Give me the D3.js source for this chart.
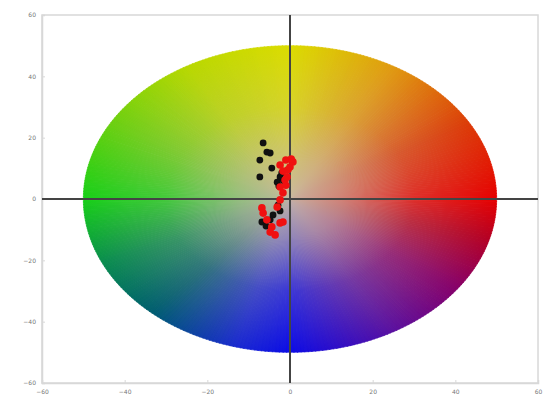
<!DOCTYPE html>
<html>
<head>
<meta charset="utf-8">
<script src="https://cdn.jsdelivr.net/npm/d3@7"></script>
<style>
  body { margin: 0; background: #fff; }
  .tick text { font-family: "DejaVu Sans", sans-serif; font-size: 6px; fill: #777; }
</style>
</head>
<body>
<div id="chart"></div>
<script>
// Tick values for both axes
var tickValues = [-60, -40, -20, 0, 20, 40, 60];

// Colour wheel: hue stops by angle (degrees, counter-clockwise from +a)
var hueAngles = [0, 30, 60, 90, 120, 150, 180, 205, 228, 255, 270, 300, 325, 345, 360];
var hueColors = ["#e60000", "#dc3c08", "#e09a10", "#dcdc00", "#b8d800", "#6cd010", "#18d018",
                 "#0a8c50", "#005e70", "#1a2ad0", "#0c0ce6", "#5a10a0", "#880068", "#b40024", "#e60000"];
var wheelRadius = 50;

// Sample group 1 (black)
var blackA = [-6.5, -5.6, -4.8, -7.3, -4.4, -7.3, -2.4, -3.1, -2.7, -2.9, -2.4, -4.1, -4.8, -6.8, -5.8, -2.0, -1.6];
var blackB = [18.3, 15.3, 15.0, 12.7, 10.1, 7.2, 7.2, 5.5, 4.2, -2.0, -3.9, -5.2, -6.8, -7.5, -8.8, 8.5, 6.0];

// Sample group 2 (red)
var redA = [-2.4, -1.0, 0.7, -1.7, -0.5, -1.2, -2.4, -1.7, -2.4, -3.1, -6.8, -6.5, -5.6, -4.4, -3.6, -2.4, -1.7, -4.8, 0.0, -0.7, 0.3, -1.0];
var redB = [11.1, 12.7, 12.1, 9.1, 9.5, 6.2, 3.9, 2.0, -0.3, -2.6, -2.9, -4.6, -6.8, -9.1, -11.7, -7.8, -7.5, -10.8, 10.4, 7.2, 13.0, 4.5];

var svgWidth = 557;
var svgHeight = 398;
var Margin = { top: 15, right: 19, bottom: 15, left: 42 };
var width = svgWidth - Margin.left - Margin.right;
var height = svgHeight - Margin.top - Margin.bottom;

var svg = d3.select("#chart").append("svg")
  .attr("width", svgWidth)
  .attr("height", svgHeight);

var chartGroup = svg.append("g")
  .attr("transform", `translate(${Margin.left}, ${Margin.top})`);

var xScale = d3.scaleLinear().domain([-60, 60]).range([0, width]);
var yScale = d3.scaleLinear().domain([-60, 60]).range([height, 0]);
var hueScale = d3.scaleLinear().domain(hueAngles).range(hueColors).interpolate(d3.interpolateRgb);

// Frame
chartGroup.append("rect")
  .attr("width", width)
  .attr("height", height)
  .attr("fill", "none")
  .attr("stroke", "#d8d8d8")
  .attr("stroke-width", 1.5);

// Axes with small inward ticks
var xAxis = chartGroup.append("g")
  .attr("transform", `translate(0, ${height})`)
  .call(d3.axisBottom(xScale).tickValues(tickValues).tickSize(-3).tickPadding(7));
var yAxis = chartGroup.append("g")
  .call(d3.axisLeft(yScale).tickValues(tickValues).tickSize(-3).tickPadding(6));
[xAxis, yAxis].forEach(function(ax) {
  ax.select(".domain").attr("stroke", "#d8d8d8").attr("stroke-width", 1.5);
  ax.selectAll(".tick line").attr("stroke", "#d8d8d8");
  ax.selectAll(".tick text").attr("fill", "#777");
});

// Colour wheel drawn as thin wedges in a*b* space
var defs = svg.append("defs");
var steps = d3.range(0, 360, 1);
chartGroup.append("g").selectAll("path")
  .data(steps)
  .enter()
  .append("path")
  .attr("d", function(deg) {
    var a0 = deg * Math.PI / 180, a1 = (deg + 1.2) * Math.PI / 180;
    return "M" + xScale(0) + "," + yScale(0) +
      "L" + xScale(wheelRadius * Math.cos(a0)) + "," + yScale(wheelRadius * Math.sin(a0)) +
      "L" + xScale(wheelRadius * Math.cos(a1)) + "," + yScale(wheelRadius * Math.sin(a1)) + "Z";
  })
  .attr("fill", d => hueScale(d + 0.5))
  .attr("stroke", d => hueScale(d + 0.5))
  .attr("stroke-width", 0.6);

// Desaturate toward the centre
var grad = defs.append("radialGradient").attr("id", "centre");
grad.append("stop").attr("offset", "0%").attr("stop-color", "#c8b8a8").attr("stop-opacity", 0.95);
grad.append("stop").attr("offset", "25%").attr("stop-color", "#c8b8a8").attr("stop-opacity", 0.7);
grad.append("stop").attr("offset", "60%").attr("stop-color", "#c8b8a8").attr("stop-opacity", 0.25);
grad.append("stop").attr("offset", "100%").attr("stop-color", "#c8b8a8").attr("stop-opacity", 0);

chartGroup.append("ellipse")
  .attr("cx", xScale(0))
  .attr("cy", yScale(0))
  .attr("rx", xScale(wheelRadius) - xScale(0))
  .attr("ry", yScale(0) - yScale(wheelRadius))
  .attr("fill", "url(#centre)");

// Zero lines
chartGroup.append("line")
  .attr("x1", 0).attr("x2", width)
  .attr("y1", yScale(0)).attr("y2", yScale(0))
  .attr("stroke", "#444").attr("stroke-width", 2);
chartGroup.append("line")
  .attr("x1", xScale(0)).attr("x2", xScale(0))
  .attr("y1", 0).attr("y2", height)
  .attr("stroke", "#444").attr("stroke-width", 2);

// Points
var blackData = blackA.map((a, i) => ({ a: a, b: blackB[i] }));
var redData = redA.map((a, i) => ({ a: a, b: redB[i] }));

chartGroup.append("g").selectAll("circle")
  .data(blackData)
  .enter()
  .append("circle")
  .attr("cx", d => xScale(d.a))
  .attr("cy", d => yScale(d.b))
  .attr("r", 3.4)
  .attr("fill", "#111");

chartGroup.append("g").selectAll("circle")
  .data(redData)
  .enter()
  .append("circle")
  .attr("cx", d => xScale(d.a))
  .attr("cy", d => yScale(d.b))
  .attr("r", 3.8)
  .attr("fill", "#f01010");
</script>
</body>
</html>
